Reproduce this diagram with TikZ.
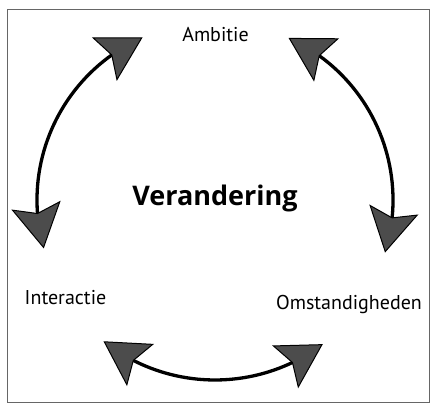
\documentclass[tikz,border=0pt]{standalone}
\usepackage{fontspec}
\setmainfont{PT Sans}
\newfontfamily\titlefont{Open Sans}
\usetikzlibrary{arrows.meta,bending}
\begin{document}
\begin{tikzpicture}[x=1pt,y=1pt,
  lbl/.style={anchor=base,inner sep=0pt,font=\fontsize{20}{23}\selectfont},
  title/.style={anchor=base,inner sep=0pt,font=\titlefont\fontsize{27}{31}\selectfont\bfseries},
  >={Stealth[length=44pt,width=50pt,inset=8pt,line width=1pt,fill=black!70]},
  cyc/.style={line width=3.3pt,<->}]
\useasboundingbox (0,0) rectangle (431,405);
\draw[black!60,line width=1pt] (7,3) rectangle (429,395);
\coordinate (c) at (215,205);
\node[lbl] (amb) at (215.5,363.5) {Ambitie};
\node[title] (ver) at (215,200) {Verandering};
\node[lbl] (int) at (65.5,101) {Interactie};
\node[lbl] (oms) at (349,96) {Omstandigheden};
\coordinate (l1) at ([shift={(c)}]114:178);
\coordinate (r1) at ([shift={(c)}]65.6:178);
\coordinate (b1) at ([shift={(c)}]231.7:180);
\draw[cyc] (l1) arc[start angle=114,end angle=195.8,radius=178];
\draw[cyc] (r1) arc[start angle=65.6,end angle=-17.2,radius=178];
\draw[cyc] (b1) arc[start angle=231.7,end angle=306.8,radius=180];
\end{tikzpicture}
\end{document}
